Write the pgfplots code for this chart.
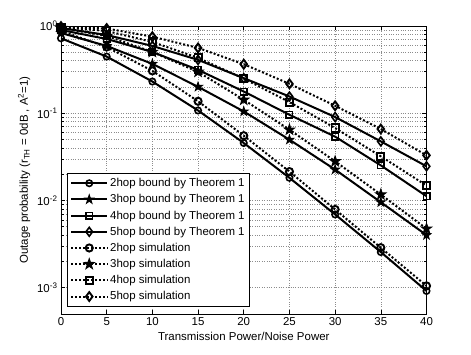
\documentclass[border=0pt]{standalone}
\usepackage{fontspec}
\setmainfont{Liberation Sans}
\usepackage{pgfplots}
\pgfplotsset{compat=1.18}
\usetikzlibrary{calc}

% filled five-point star, like MATLAB's 'p'
\pgfdeclareplotmark{pstar}{%
  \pgfpathmoveto{\pgfpointpolar{90}{1.4\pgfplotmarksize}}%
  \pgfpathlineto{\pgfpointpolar{126}{0.55\pgfplotmarksize}}%
  \pgfpathlineto{\pgfpointpolar{162}{1.4\pgfplotmarksize}}%
  \pgfpathlineto{\pgfpointpolar{198}{0.55\pgfplotmarksize}}%
  \pgfpathlineto{\pgfpointpolar{234}{1.4\pgfplotmarksize}}%
  \pgfpathlineto{\pgfpointpolar{270}{0.55\pgfplotmarksize}}%
  \pgfpathlineto{\pgfpointpolar{306}{1.4\pgfplotmarksize}}%
  \pgfpathlineto{\pgfpointpolar{342}{0.55\pgfplotmarksize}}%
  \pgfpathlineto{\pgfpointpolar{18}{1.4\pgfplotmarksize}}%
  \pgfpathlineto{\pgfpointpolar{54}{0.55\pgfplotmarksize}}%
  \pgfpathclose\pgfusepathqfillstroke}

\pgfplotsset{
  bnd/.style={black, solid, line width=2bp, mark size=3.2bp,
              mark options={solid, line width=1.6bp}},
  sim/.style={black, dotted, line width=2bp, mark size=3.6bp,
              mark options={solid, line width=1.9bp, fill=white}},
}

\begin{document}
\begin{tikzpicture}
\begin{axis}[
  scale only axis, width=365.5bp, height=288bp,
  ymode=log, xmin=0, xmax=40, ymin=5e-4, ymax=1,
  xtick={0,5,...,40},
  ytick={1e-3,1e-2,1e-1,1},
  yticklabels={10\textsuperscript{-3},10\textsuperscript{-2},10\textsuperscript{-1},10\textsuperscript{0}},
  /pgf/number format/assume math mode=true,
  tick label style={font=\fontsize{11.5}{13}\selectfont},
  label style={font=\fontsize{11.5}{13}\selectfont},
  xlabel={Transmission Power/Noise Power},
  ylabel={Outage probability (r\textsubscript{TH} = 0dB , A\textsuperscript{2}=1)},
  grid=both, major grid style={dotted, gray!90, line width=0.6bp},
  minor grid style={dotted, gray!90, line width=0.6bp},
  axis line style={line width=0.9bp}, tick style={black, line width=0.6bp},
  tick align=inside,
  legend cell align=left,
  legend style={at={(0.016,0.025)}, anchor=south west, draw=black, fill=white,
                font=\fontsize{11.5}{13}\selectfont, row sep=2.4bp,
                inner xsep=3bp, inner ysep=3bp, line width=0.8bp},
  legend image code/.code={%
    \draw[mark repeat=2,mark phase=2,#1] plot coordinates {(0bp,0bp) (18bp,0bp) (36bp,0bp)};},
]
% bounds by Theorem 1
\addplot[bnd, mark=o] coordinates
  {(0,0.723) (5,0.446) (10,0.231) (15,0.1076) (20,0.0456) (25,0.0182) (30,0.00692) (35,0.002565) (40,0.000919)};
\addlegendentry{2hop bound by Theorem 1}
\addplot[bnd, mark=pstar, mark options={solid, line width=1bp, fill=black}] coordinates
  {(0,0.832) (5,0.591) (10,0.368) (15,0.2009) (20,0.1049) (25,0.0498) (30,0.0226) (35,0.00956) (40,0.00401)};
\addlegendentry{3hop bound by Theorem 1}
\addplot[bnd, mark=square] coordinates
  {(0,0.90) (5,0.710) (10,0.504) (15,0.3144) (20,0.1775) (25,0.0961) (30,0.0539) (35,0.02526) (40,0.01120)};
\addlegendentry{4hop bound by Theorem 1}
\addplot[bnd, mark=diamond, mark size=4.4bp] coordinates
  {(0,0.949) (5,0.789) (10,0.591) (15,0.409) (20,0.2525) (25,0.1556) (30,0.0905) (35,0.0476) (40,0.02466)};
\addlegendentry{5hop bound by Theorem 1}
% simulations
\addplot[sim, mark=o] coordinates
  {(0,0.877) (5,0.575) (10,0.306) (15,0.1372) (20,0.0553) (25,0.02145) (30,0.00789) (35,0.00288) (40,0.00105)};
\addlegendentry{2hop simulation}
\addplot[sim, mark=pstar, mark options={solid, line width=1.2bp, fill=black}] coordinates
  {(0,0.949) (5,0.769) (10,0.504) (15,0.298) (20,0.1427) (25,0.0648) (30,0.0281) (35,0.01171) (40,0.00475)};
\addlegendentry{3hop simulation}
\addplot[sim, mark=square] coordinates
  {(0,0.97) (5,0.877) (10,0.657) (15,0.431) (20,0.2497) (25,0.1343) (30,0.0677) (35,0.0321) (40,0.01484)};
\addlegendentry{4hop simulation}
\addplot[sim, mark=diamond, mark size=4.4bp] coordinates
  {(0,0.985) (5,0.936) (10,0.755) (15,0.561) (20,0.365) (25,0.2174) (30,0.1218) (35,0.066) (40,0.03294)};
\addlegendentry{5hop simulation}
\end{axis}
\path ($(current axis.south west)+(-61bp,-40bp)$) rectangle ($(current axis.north east)+(44.5bp,26bp)$);
\end{tikzpicture}
\end{document}
